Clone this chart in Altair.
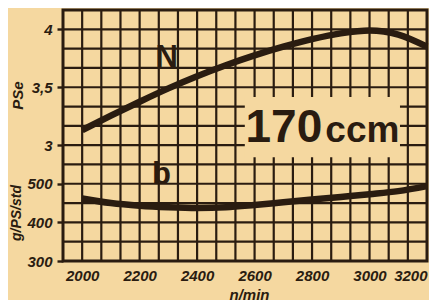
import altair as alt
import pandas as pd
import numpy as np

# --- data ---
rpm = [2000, 2100, 2200, 2300, 2400, 2500, 2600, 2700, 2800, 2900, 3000, 3100, 3200]
N_ps = [3.13, 3.255, 3.375, 3.49, 3.595, 3.69, 3.775, 3.85, 3.915, 3.965, 3.99, 3.955, 3.85]
b_gpsh = [462, 450, 443, 439, 437, 439, 445, 452, 459, 466, 473, 481, 494]

x_ticks = [2000, 2200, 2400, 2600, 2800, 3000, 3200]
ps_ticks = [3, 3.5, 4]
b_ticks = [300, 400, 500]

PAPER = "#f5d8a0"
INK = "#2a1c10"
FONT = "Liberation Sans"

# b axis shares the grid with the PS axis: 300 g -> 2.0, each 50 g = 1/6 PS
def b_to_ps(v):
    return 2 + (v - 300) / 300.0

XMIN, XMAX = 2000 - 200 / 3, 3200
YMIN, YMAX = 2.0, 2 + 13 / 6

df = pd.DataFrame({"rpm": rpm, "N": N_ps, "b": b_gpsh})
grid_x = pd.DataFrame({"x": [XMIN + i * 200 / 3 for i in range(1, 19)]})
grid_y = pd.DataFrame({"y": [YMIN + i / 6 for i in range(1, 13)]})
box = pd.DataFrame({"x": [2566], "x2": [3106], "y": [2.896], "y2": [3.416]})
labels = pd.DataFrame({
    "x": [2294, 2276],
    "y": [3.675, b_to_ps(500)],
    "t": ["N", "b"],
})
big = pd.DataFrame({"x": [2702, 2975], "y": [3.026, 3.026], "t": ["170", "ccm"],
                    "s": [46, 37]})

xscale = alt.Scale(domain=[XMIN, XMAX], nice=False, zero=False)
yscale = alt.Scale(domain=[YMIN, YMAX], nice=False, zero=False)

y_vals = [b_to_ps(v) for v in b_ticks] + ps_ticks

xaxis = alt.Axis(values=x_ticks, format="d", grid=False, domain=False, ticks=False,
                 labelFont=FONT, labelFontStyle="italic", labelFontWeight="bold",
                 labelFontSize=15, labelColor=INK, labelPadding=7,
                 title="n/min", titleFont=FONT, titleFontStyle="italic",
                 titleFontWeight="bold", titleFontSize=15, titleColor=INK,
                 titleX=186, titleY=26, titleBaseline="top")
yaxis = alt.Axis(values=y_vals, grid=False, domain=False, tickSize=6, tickWidth=2.4,
                 tickColor=INK,
                 labelExpr="datum.value < 2.9 ? format(round(300 + (datum.value - 2) * 300), 'd') : replace(format(datum.value, '.1~f'), '.', ',')",
                 labelFont=FONT, labelFontStyle="italic", labelFontWeight="bold",
                 labelFontSize=15, labelColor=INK, labelPadding=5,
                 title="PSe", titleFont=FONT, titleFontStyle="italic",
                 titleFontWeight="bold", titleFontSize=15, titleColor=INK,
                 titleAngle=270, titleX=-46, titleY=85, titleAlign="center",
                 titleBaseline="middle")

vrules = alt.Chart(grid_x).mark_rule(color=INK, strokeWidth=2.2).encode(
    x=alt.X("x:Q", scale=xscale, axis=xaxis))
hrules = alt.Chart(grid_y).mark_rule(color=INK, strokeWidth=2.2).encode(
    y=alt.Y("y:Q", scale=yscale, axis=yaxis))

boxl = alt.Chart(box).mark_rect(color=PAPER).encode(
    x="x:Q", x2="x2:Q", y="y:Q", y2="y2:Q")

nline = alt.Chart(df).mark_line(color=INK, strokeWidth=6.5, interpolate="monotone").encode(
    x="rpm:Q", y="N:Q")
bline = alt.Chart(df).transform_calculate(
    bps="2 + (datum.b - 300) / 300").mark_line(
    color=INK, strokeWidth=6.5, interpolate="monotone").encode(
    x="rpm:Q", y="bps:Q")

txt = alt.Chart(labels).mark_text(font=FONT, fontWeight="bold", color=INK, fontSize=31,
                                  baseline="alphabetic", align="center").encode(
    x="x:Q", y="y:Q", text="t:N")
bigtxt = alt.Chart(big).mark_text(font=FONT, fontWeight="bold", color=INK,
                                  baseline="alphabetic", align="center").encode(
    x="x:Q", y="y:Q", text="t:N", size=alt.Size("s:Q", scale=None, legend=None))

btitle = alt.Chart(pd.DataFrame({"t": ["g/PS/std"]})).mark_text(
    font=FONT, fontWeight="bold", fontStyle="italic", fontSize=14, color=INK,
    angle=270, align="center", baseline="middle").encode(
    x=alt.value(-46), y=alt.value(203), text="t:N")

chart = alt.layer(vrules, hrules, boxl, nline, bline, txt, bigtxt, btitle).properties(
    width=364, height=251,
    background=PAPER,
    padding={"left": 55, "top": 2, "right": 2, "bottom": 39},
    autosize=alt.AutoSizeParams(type="none"),
).configure_view(stroke=INK, strokeWidth=3)

chart.save("out.html", embed_options={"renderer": "svg", "actions": False})
